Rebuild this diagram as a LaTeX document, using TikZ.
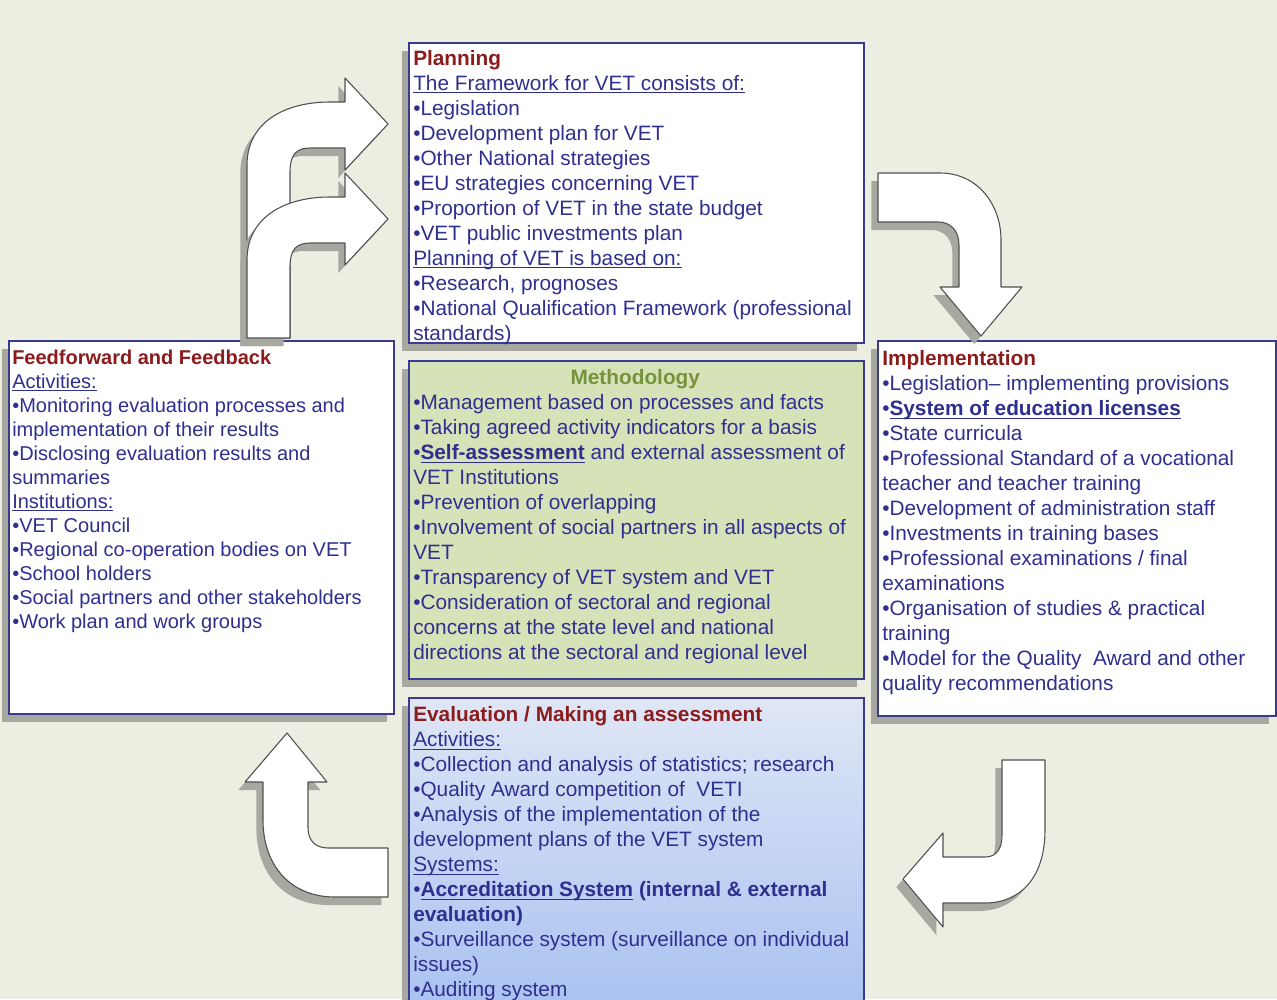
\documentclass[tikz,border=0pt]{standalone}
\usepackage{fontspec}
\setmainfont{Liberation Sans}
\usetikzlibrary{shadows}

\definecolor{bgpaper}{HTML}{ECEEE1}
\definecolor{frameblue}{HTML}{3A3A8E}
\definecolor{vetblue}{HTML}{2F2F8F}
\definecolor{titlered}{HTML}{8B1C1C}
\definecolor{methgreen}{HTML}{76933C}
\definecolor{methfill}{HTML}{D6E2B8}
\definecolor{evaltop}{HTML}{DFE7F6}
\definecolor{evalbot}{HTML}{A6BFF0}
\definecolor{arrowline}{HTML}{505050}
\definecolor{shadegray}{HTML}{A7A8A0}

\newcommand{\unitpx}{0.75pt}
\newcommand{\stagetitle}[1]{\textcolor{titlered}{\bfseries #1}}
\newsavebox{\ulbox}
\newcommand{\ulined}[1]{\sbox{\ulbox}{#1}\rlap{\rule[-2pt]{\wd\ulbox}{0.7pt}}\usebox{\ulbox}}

\begin{document}
\begin{tikzpicture}[x=0.75pt,y=-0.75pt,
    stagebox/.style={draw=frameblue, line width=1.2pt, anchor=north west, inner sep=0pt,
      drop shadow={shadow xshift=-5pt, shadow yshift=-6pt, fill=shadegray, opacity=1}},
    boxtext/.style={anchor=north west, inner sep=0pt, align=left, text=vetblue,
      font=\fontsize{15.6}{18.75}\selectfont},
    blockarrow/.style={draw=arrowline, line width=0.8pt, fill=white, line join=round,
      drop shadow={shadow xshift=-5pt, shadow yshift=-6pt, fill=shadegray, opacity=1}}]
  \useasboundingbox (0,0) rectangle (1277,999);
  \clip (0,0) rectangle (1277,999);
  \fill[bgpaper] (0,0) rectangle (1277,999);

  % the five stages
  \node[stagebox, fill=white, minimum width=455*\unitpx, minimum height=300*\unitpx] (plan) at (408,42) {};
  \node[stagebox, fill=white, minimum width=385*\unitpx, minimum height=373*\unitpx] (feed) at (8,340) {};
  \node[stagebox, fill=methfill, minimum width=455*\unitpx, minimum height=318*\unitpx] (meth) at (408,360) {};
  \node[stagebox, fill=white, minimum width=398*\unitpx, minimum height=375*\unitpx] (impl) at (877,340) {};
  \node[stagebox, top color=evaltop, bottom color=evalbot, minimum width=455*\unitpx, minimum height=330*\unitpx] (eval) at (408,697) {};

  \node[boxtext] (plantext) at ([shift={(5,8)}]plan.north west) {\stagetitle{Planning}\\
    \ulined{The Framework for VET consists of:}\\
    •Legislation\\
    •Development plan for VET\\
    •Other National strategies\\
    •EU strategies concerning VET\\
    •Proportion of VET in the state budget\\
    •VET public investments plan\\
    \ulined{Planning of VET is based on:}\\
    •Research, prognoses\\
    •National Qualification Framework (professional\\
    standards)};
  \node[boxtext, font=\fontsize{15}{18}\selectfont] (feedtext) at ([shift={(4,9.5)}]feed.north west) {\stagetitle{Feedforward and Feedback}\\
    \ulined{Activities:}\\
    •Monitoring evaluation processes and\\
    implementation of their results\\
    •Disclosing evaluation results and\\
    summaries\\
    \ulined{Institutions:}\\
    •VET Council\\
    •Regional co-operation bodies on VET\\
    •School holders\\
    •Social partners and other stakeholders\\
    •Work plan and work groups};
  \node[boxtext] (methtext) at ([shift={(5,9.5)}]meth.north west) {\makebox[333pt]{\textcolor{methgreen}{\bfseries Methodology}}\\
    •Management based on processes and facts\\
    •Taking agreed activity indicators for a basis\\
    •\ulined{\textbf{Self-assessment}} and external assessment of\\
    VET Institutions\\
    •Prevention of overlapping\\
    •Involvement of social partners in all aspects of\\
    VET\\
    •Transparency of VET system and VET\\
    •Consideration of sectoral and regional\\
    concerns at the state level and national\\
    directions at the sectoral and regional level};
  \node[boxtext] (impltext) at ([shift={(5,10.5)}]impl.north west) {\stagetitle{Implementation}\\
    •Legislation– implementing provisions\\
    •\ulined{\textbf{System of education licenses}}\\
    •State curricula\\
    •Professional Standard of a vocational\\
    teacher and teacher training\\
    •Development of administration staff\\
    •Investments in training bases\\
    •Professional examinations / final\\
    examinations\\
    •Organisation of studies \& practical\\
    training\\
    •Model for the Quality~ Award and other\\
    quality recommendations};
  \node[boxtext] (evaltext) at ([shift={(5,9.5)}]eval.north west) {\stagetitle{Evaluation / Making an assessment}\\
    \ulined{Activities:}\\
    •Collection and analysis of statistics; research\\
    •Quality Award competition of~ VETI\\
    •Analysis of the implementation of the\\
    development plans of the VET system\\
    \ulined{Systems:}\\
    •\ulined{\textbf{Accreditation System}}\textbf{ (internal \& external}\\
    \textbf{evaluation)}\\
    •Surveillance system (surveillance on individual\\
    issues)\\
    •Auditing system};

  % block arrows of the cycle
  \draw[blockarrow] (247,338) -- (247,165) .. controls (247,122) and (285,102) .. (330,102) -- (345,102)
    -- (345,78) -- (388,124) -- (345,170) -- (345,148) -- (310,148)
    .. controls (296,148) and (290,155) .. (290,172) -- (290,338) -- cycle;
  \draw[blockarrow] (247,338) -- (247,260) .. controls (247,217) and (285,197) .. (330,197) -- (345,197)
    -- (345,173) -- (388,219) -- (345,265) -- (345,243) -- (310,243)
    .. controls (296,243) and (290,250) .. (290,267) -- (290,338) -- cycle;
  \draw[blockarrow] (878,173) -- (940,173) .. controls (978,173) and (1001,205) .. (1001,240)
    -- (1001,287) -- (1022,287) -- (981,336) -- (940,287) -- (959,287) -- (959,245)
    .. controls (959,230) and (950,222) .. (938,222) -- (878,222) -- cycle;
  \draw[blockarrow] (1002,760) -- (1045,760) -- (1045,830) .. controls (1045,878) and (1020,903) .. (985,903)
    -- (943,903) -- (943,927) -- (903,879) -- (943,833) -- (943,857) -- (985,857)
    .. controls (997,857) and (1002,848) .. (1002,835) -- cycle;
  \draw[blockarrow] (388,848) -- (388,897) -- (335,897) .. controls (290,897) and (263,865) .. (263,820)
    -- (263,782) -- (245,782) -- (287,733) -- (327,782) -- (308,782) -- (308,828)
    .. controls (308,840) and (315,848) .. (328,848) -- cycle;
\end{tikzpicture}
\end{document}
